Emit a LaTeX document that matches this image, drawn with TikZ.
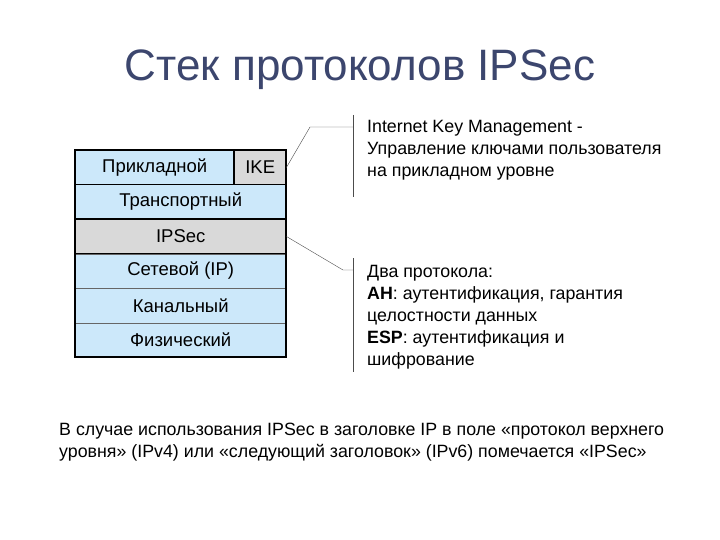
\documentclass[tikz,border=0pt]{standalone}
\usepackage{fontspec}
\setmainfont{Liberation Sans}
\definecolor{lb}{RGB}{204,232,250}
\definecolor{tc}{RGB}{60,70,110}
\begin{document}
\begin{tikzpicture}[x=1pt,y=-1pt,
  layer/.style={draw=black!60,fill=lb,minimum width=211pt,minimum height=34.5pt,anchor=north west,inner sep=0pt,font=\fontsize{18.5}{21}\selectfont},
  grey/.style={fill=black!15},
  txt/.style={anchor=north west,align=left,inner sep=0pt,font=\fontsize{17.8}{22}\selectfont}]
\useasboundingbox (0,0) rectangle (720,540);
\node (title) at (360,70) {\fontsize{44}{50}\selectfont\color{tc}Стек протоколов IPSec};
\node[layer,minimum width=159pt] (app) at (75,150) {Прикладной};
\node[layer,grey,minimum width=52pt] (ike) at (234,150) {IKE};
\node[layer] (tr) at (75,184.5) {Транспортный};
\node[layer,grey] (ips) at (75,219) {IPSec};
\node[layer] (net) at (75,253.5) {Сетевой (IP)};
\node[layer] (ch) at (75,288) {Канальный};
\node[layer] (ph) at (75,322.5) {Физический};
\draw[line width=1.5pt] (75,150) rectangle (286,357);
\draw[line width=1.5pt] (75,184.5) -- (286,184.5) (234,150) -- (234,184.5);
\draw[line width=1.5pt] (75,219) -- (286,219) (75,253.5) -- (286,253.5);
\coordinate (a1) at (310,127); \coordinate (a2) at (353,127);
\coordinate (b1) at (343,270); \coordinate (b2) at (353,270);
\draw[black!70] (ike.east) -- (a1) -- (a2);
\draw[black!70] (ips.east) -- (b1) -- (b2);
\draw[black!70] (353,115) coordinate (v1) -- (353,197) coordinate (v2);
\draw[black!70] (353,258) coordinate (v3) -- (353,372) coordinate (v4);
\node[txt] (t1) at (367,120) {Internet Key Management -\\Управление ключами пользователя\\на прикладном уровне};
\node[txt] (t2) at (367,265) {Два протокола:\\\textbf{AH}: аутентификация, гарантия\\целостности данных\\\textbf{ESP}: аутентификация и\\шифрование};
\node[txt] (t3) at (59,423) {В случае использования IPSec в заголовке IP в поле «протокол верхнего\\уровня» (IPv4) или «следующий заголовок» (IPv6) помечается «IPSec»};
\end{tikzpicture}
\end{document}
